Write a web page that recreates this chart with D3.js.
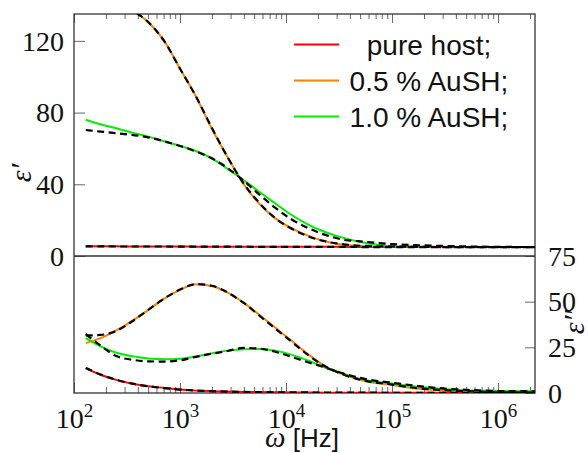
<!DOCTYPE html>
<html><head><meta charset="utf-8">
<script src="https://cdn.jsdelivr.net/npm/d3@7"></script>
<style>
html,body{margin:0;padding:0;background:#fff;}
svg{display:block;}
</style></head>
<body>
<svg id="chart" width="588" height="453"></svg>
<script>
// ---- data (frequency in Hz) ----
const freq = [129, 178, 251, 355, 501, 708, 1000, 1413, 1995, 2818, 3981, 5623, 7943, 11220, 15850, 22390, 31620, 56230, 100000, 177800, 316200, 562300, 1000000, 2230000];

// real part eps'
const epsRealPure    = [5.5, 5.4, 5.4, 5.3, 5.3, 5.3, 5.3, 5.2, 5.2, 5.2, 5.2, 5.2, 5.1, 5.1, 5.1, 5.1, 5.1, 5.0, 5.0, 5.0, 5.0, 5.0, 5.0, 5.0];
const epsRealPureFit = [5.4, 5.4, 5.3, 5.3, 5.3, 5.3, 5.2, 5.2, 5.2, 5.2, 5.2, 5.1, 5.1, 5.1, 5.1, 5.1, 5.1, 5.0, 5.0, 5.0, 5.0, 5.0, 5.0, 5.0];
const epsReal05      = [149, 146, 142, 137, 130.5, 120, 104.5, 89, 71, 55, 40, 29, 21, 15.5, 11.5, 8.5, 6.7, 5.4, 5.2, 5.1, 5.0, 5.0, 5.0, 5.0];
const epsReal05Fit   = [150, 146.5, 142, 137, 130.5, 120, 104.5, 89, 71.5, 55, 40.5, 29.5, 21, 15.3, 11.2, 8.4, 6.8, 5.6, 5.3, 5.1, 5.0, 5.0, 5.0, 5.0];
const epsReal10      = [76.0, 73.5, 71.3, 68.8, 66.6, 64.0, 61.4, 58.6, 54.5, 48.5, 42.4, 35.7, 29.3, 23.0, 17.8, 13.8, 10.8, 7.2, 5.5, 5.2, 5.1, 5.0, 5.0, 5.0];
const epsReal10Fit   = [70.3, 69.4, 68.5, 67.5, 66.2, 64.0, 61.4, 58.3, 54.5, 49.0, 42.0, 34.2, 26.8, 20.5, 15.8, 12.2, 9.6, 7.9, 6.6, 6.0, 5.6, 5.3, 5.1, 5.0];

// imaginary part eps''
const epsImagPure    = [13.5, 10.0, 7.2, 5.1, 3.7, 2.8, 1.9, 1.3, 1.0, 0.8, 0.6, 0.5, 0.4, 0.3, 0.3, 0.2, 0.2, 0.2, 0.1, 0.1, 0.1, 0.1, 0.1, 0.1];
const epsImagPureFit = [13.8, 10.1, 7.2, 5.1, 3.7, 2.7, 1.9, 1.3, 1.0, 0.8, 0.6, 0.5, 0.4, 0.3, 0.3, 0.2, 0.2, 0.2, 0.1, 0.1, 0.1, 0.1, 0.1, 0.1];
const epsImag05      = [27.3, 30.0, 34.3, 39.5, 45.5, 51.7, 56.5, 59.5, 58.6, 55.0, 49.5, 42.7, 35.7, 28.7, 21.6, 15.3, 11.0, 6.4, 4.4, 2.3, 1.4, 0.8, 0.4, 0.2];
const epsImag05Fit   = [31.5, 31.8, 34.0, 39.3, 45.5, 51.7, 56.6, 59.6, 58.7, 55.0, 49.3, 42.3, 35.2, 28.2, 21.2, 15.2, 11.0, 6.6, 4.6, 2.6, 1.5, 0.9, 0.5, 0.3];
const epsImag10      = [30.0, 25.5, 22.0, 20.1, 18.9, 18.5, 18.8, 20.0, 21.7, 23.2, 24.0, 24.1, 23.2, 21.0, 17.9, 14.4, 11.4, 7.0, 5.2, 3.4, 2.1, 1.4, 1.1, 1.0];
const epsImag10Fit   = [32.2, 26.0, 20.2, 18.2, 17.3, 17.2, 17.9, 19.8, 21.5, 23.0, 24.7, 24.3, 22.6, 19.8, 17.0, 14.3, 11.4, 7.6, 5.6, 3.8, 2.4, 1.6, 1.1, 1.0];

const seriesLabels = ["pure host;", "0.5 % AuSH;", "1.0 % AuSH;"];
const seriesColors = ["#ff0000", "#ff8000", "#00ee00"];

const xMajorTicks = [1e2, 1e3, 1e4, 1e5, 1e6];
const xMajorExp = ["2", "3", "4", "5", "6"];
const yTicksTop = [0, 40, 80, 120];
const yTicksBottom = [0, 25, 50, 75];
const xDomain = [100, 2230000];
const yTopDomain = [0, 135];
const yBottomDomain = [0, 75];

// ---- layout ----
const L = 74, R = 535, T = 14, MID = 256, B = 393;
const SERIF = '"Liberation Serif"';
const SANS = '"Liberation Sans"';
const svg = d3.select("#chart");

const x = d3.scaleLog().domain(xDomain).range([L, R]);
const yTop = d3.scaleLinear().domain(yTopDomain).range([MID, T]);
const yBot = d3.scaleLinear().domain(yBottomDomain).range([B, MID]);

const xMinorTicks = [];
for (let e = 2; e <= 6; e++) for (let m = 2; m <= 9; m++) {
  const v = m * Math.pow(10, e);
  if (v <= xDomain[1]) xMinorTicks.push(v);
}

const defs = svg.append("defs");
defs.append("clipPath").attr("id", "clipTop").append("rect")
  .attr("x", L).attr("y", T).attr("width", R - L).attr("height", MID - T);
defs.append("clipPath").attr("id", "clipBot").append("rect")
  .attr("x", L).attr("y", MID).attr("width", R - L).attr("height", B - MID);

const tickColor = "#555";

const gTopMinor = svg.append("g").attr("transform", `translate(0,${T})`)
  .call(d3.axisTop(x).tickValues(xMinorTicks).tickSizeInner(-5).tickSizeOuter(0).tickFormat(""));
const gTopMajor = svg.append("g").attr("transform", `translate(0,${T})`)
  .call(d3.axisTop(x).tickValues(xMajorTicks).tickSizeInner(-9).tickSizeOuter(0).tickFormat(""));
const gBotMinor = svg.append("g").attr("transform", `translate(0,${B})`)
  .call(d3.axisBottom(x).tickValues(xMinorTicks).tickSizeInner(-6).tickSizeOuter(0).tickFormat(""));
const gBotMajor = svg.append("g").attr("transform", `translate(0,${B})`)
  .call(d3.axisBottom(x).tickValues(xMajorTicks).tickSizeInner(-10).tickSizeOuter(0).tickFormat(""));

const gLeft = svg.append("g").attr("transform", `translate(${L},0)`)
  .call(d3.axisLeft(yTop).tickValues(yTicksTop).tickSizeInner(-11).tickSizeOuter(0).tickPadding(10).tickFormat(d3.format("d")));
const gRight = svg.append("g").attr("transform", `translate(${R},0)`)
  .call(d3.axisRight(yBot).tickValues(yTicksBottom).tickSizeInner(-10).tickSizeOuter(0).tickPadding(13).tickFormat(d3.format("d")));

[gTopMinor, gTopMajor, gBotMinor, gBotMajor, gLeft, gRight].forEach(g => {
  g.attr("font-family", null).attr("font-size", null);
  g.select(".domain").remove();
  g.selectAll(".tick line").attr("stroke", tickColor).attr("stroke-width", 0.9);
});
[gLeft, gRight].forEach(g => {
  g.selectAll(".tick text").style("font-family", SERIF).style("font-size", "28px")
    .attr("fill", "#111").attr("dy", "0.33em");
});

gBotMajor.selectAll(".tick text").each(function(d, i) {
  const t = d3.select(this);
  t.text(null).attr("y", 35).attr("dy", null).style("font-family", SERIF)
    .style("font-size", "28px").attr("fill", "#111").attr("text-anchor", "middle");
  t.append("tspan").text("10");
  t.append("tspan").attr("dy", -11).style("font-size", "19px").text(xMajorExp[i]);
});

// frame
const frame = svg.append("g").attr("fill", "none").attr("stroke", "#333").attr("stroke-width", 1.3);
frame.append("rect").attr("x", L).attr("y", T).attr("width", R - L).attr("height", B - T);
frame.append("line").attr("x1", L).attr("x2", R).attr("y1", MID).attr("y2", MID);

// lines
const lineTop = d3.line().x((d, i) => x(freq[i])).y(d => yTop(d)).curve(d3.curveMonotoneX);
const lineBot = d3.line().x((d, i) => x(freq[i])).y(d => yBot(d)).curve(d3.curveMonotoneX);

const topSolid = [epsRealPure, epsReal05, epsReal10];
const topFit = [epsRealPureFit, epsReal05Fit, epsReal10Fit];
const botSolid = [epsImagPure, epsImag05, epsImag10];
const botFit = [epsImagPureFit, epsImag05Fit, epsImag10Fit];

const gT = svg.append("g").attr("clip-path", "url(#clipTop)");
const gB = svg.append("g").attr("clip-path", "url(#clipBot)");

topSolid.forEach((s, i) => gT.append("path").attr("d", lineTop(s)).attr("fill", "none")
  .attr("stroke", seriesColors[i]).attr("stroke-width", 2));
topFit.forEach(s => gT.append("path").attr("d", lineTop(s)).attr("fill", "none")
  .attr("stroke", "#000").attr("stroke-width", 2.2).attr("stroke-dasharray", "7,4.5"));
botSolid.forEach((s, i) => gB.append("path").attr("d", lineBot(s)).attr("fill", "none")
  .attr("stroke", seriesColors[i]).attr("stroke-width", 2));
botFit.forEach(s => gB.append("path").attr("d", lineBot(s)).attr("fill", "none")
  .attr("stroke", "#000").attr("stroke-width", 2.2).attr("stroke-dasharray", "7,4.5"));

// legend
const leg = svg.append("g");
seriesLabels.forEach((lab, i) => {
  const yy = 44.5 + i * 36;
  leg.append("line").attr("x1", 294).attr("x2", 339).attr("y1", yy).attr("y2", yy)
    .attr("stroke", seriesColors[i]).attr("stroke-width", 2);
  leg.append("text").attr("x", 429).attr("y", yy + 10).attr("text-anchor", "middle")
    .style("font-family", SANS).style("font-size", "28px").attr("fill", "#111").text(lab);
});

// axis labels
svg.append("text").attr("transform", "translate(31,173) rotate(-90)")
  .attr("text-anchor", "middle").style("font-family", SERIF).style("font-style", "italic")
  .style("font-size", "30px").attr("fill", "#111").text("ε′");
svg.append("text").attr("transform", "translate(584,322) rotate(-90)")
  .attr("text-anchor", "middle").style("font-family", SERIF).style("font-style", "italic")
  .style("font-size", "30px").attr("fill", "#111").text("ε″");
const xl = svg.append("text").attr("x", 302).attr("y", 447).attr("text-anchor", "middle").attr("fill", "#111");
xl.append("tspan").style("font-family", SERIF).style("font-style", "italic").style("font-size", "29px").text("ω ");
xl.append("tspan").style("font-family", SANS).style("font-size", "26px").text("[Hz]");
</script>
</body></html>
